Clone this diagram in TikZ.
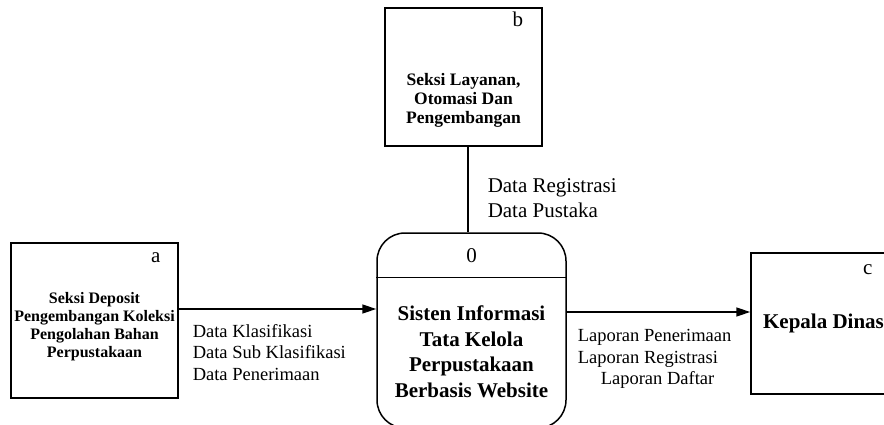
\documentclass[tikz,border=0pt]{standalone}
\usepackage{fontspec}
\setmainfont{Liberation Serif}
\usetikzlibrary{arrows.meta, positioning}

\begin{document}
\begin{tikzpicture}[x=1pt, y=-1pt, line width=1.5pt,
  entity/.style={draw=black, rectangle, inner sep=0pt},
  process/.style={draw=black, rectangle, rounded corners=28pt, inner sep=0pt},
  tag/.style={inner sep=0pt, font=\fontsize{21}{25}\selectfont},
  flow/.style={-{Triangle[length=14pt, width=9pt]}},
  flowtext/.style={inner sep=0pt, align=left, anchor=west, font=\fontsize{18.5}{21.5}\selectfont}]

\useasboundingbox (0,0) rectangle (884,425);

% draw external entities
\node[entity, minimum width=167pt, minimum height=155pt] (a) at (94.5,320.5) {};
\node[align=center, inner sep=0pt, font=\bfseries\fontsize{16}{18}\selectfont] (a-name) at ([yshift=-6pt]a.center)
  {Seksi Deposit\\Pengembangan Koleksi\\Pengolahan Bahan\\Perpustakaan};
\node[tag] (a-tag) at ([xshift=-23pt, yshift=-15pt]a.north east) {a};

\node[entity, minimum width=157pt, minimum height=138pt] (b) at (463.5,77) {};
\node[align=center, inner sep=0pt, font=\bfseries\fontsize{17.5}{19}\selectfont] (b-name) at ([yshift=-23pt]b.center)
  {Seksi Layanan,\\Otomasi Dan\\Pengembangan};
\node[tag] (b-tag) at ([xshift=-25pt, yshift=-12pt]b.north east) {b};

\node[entity, minimum width=145pt, minimum height=141pt] (c) at (823.5,323.5) {};
\node[inner sep=0pt, font=\bfseries\fontsize{21}{25}\selectfont] (c-name) at (c.center) {Kepala Dinas};
\node[tag] (c-tag) at ([xshift=-29pt, yshift=-17pt]c.north east) {c};

% draw process
\node[process, minimum width=189pt, minimum height=195pt] (proc) at (471.5,330.5) {};
\draw ([yshift=-45pt]proc.north west) -- ([yshift=-45pt]proc.north east);
\node[tag] (proc-tag) at ([yshift=-23pt]proc.north) {0};
\node[align=center, inner sep=0pt, font=\bfseries\fontsize{21}{25.5}\selectfont] (proc-name) at ([yshift=-21.5pt]proc.center)
  {Sisten Informasi\\Tata Kelola\\Perpustakaan\\Berbasis Website};

% draw data flows
\draw[flow] ([yshift=11.5pt]a.east) -- ([yshift=11.5pt]a.east -| proc.west);
\draw[flow] ([yshift=18.5pt]proc.east) -- ([yshift=18.5pt]proc.east -| c.west);
\draw ([xshift=4.5pt]b.south) -- ([xshift=4.5pt]b.south |- proc.north);

% draw flow labels
\node[flowtext, font=\fontsize{21}{25.5}\selectfont] (b-flow) at (487,198) {Data Registrasi\\Data Pustaka};
\node[flowtext] (a-flow) at (192,352.5) {Data Klasifikasi\\Data Sub Klasifikasi\\Data Penerimaan};
\node[flowtext] (c-flow) at (577,359) {Laporan Penerimaan\\Laporan Registrasi\\\hspace*{23pt}Laporan Daftar};

\end{tikzpicture}
\end{document}
